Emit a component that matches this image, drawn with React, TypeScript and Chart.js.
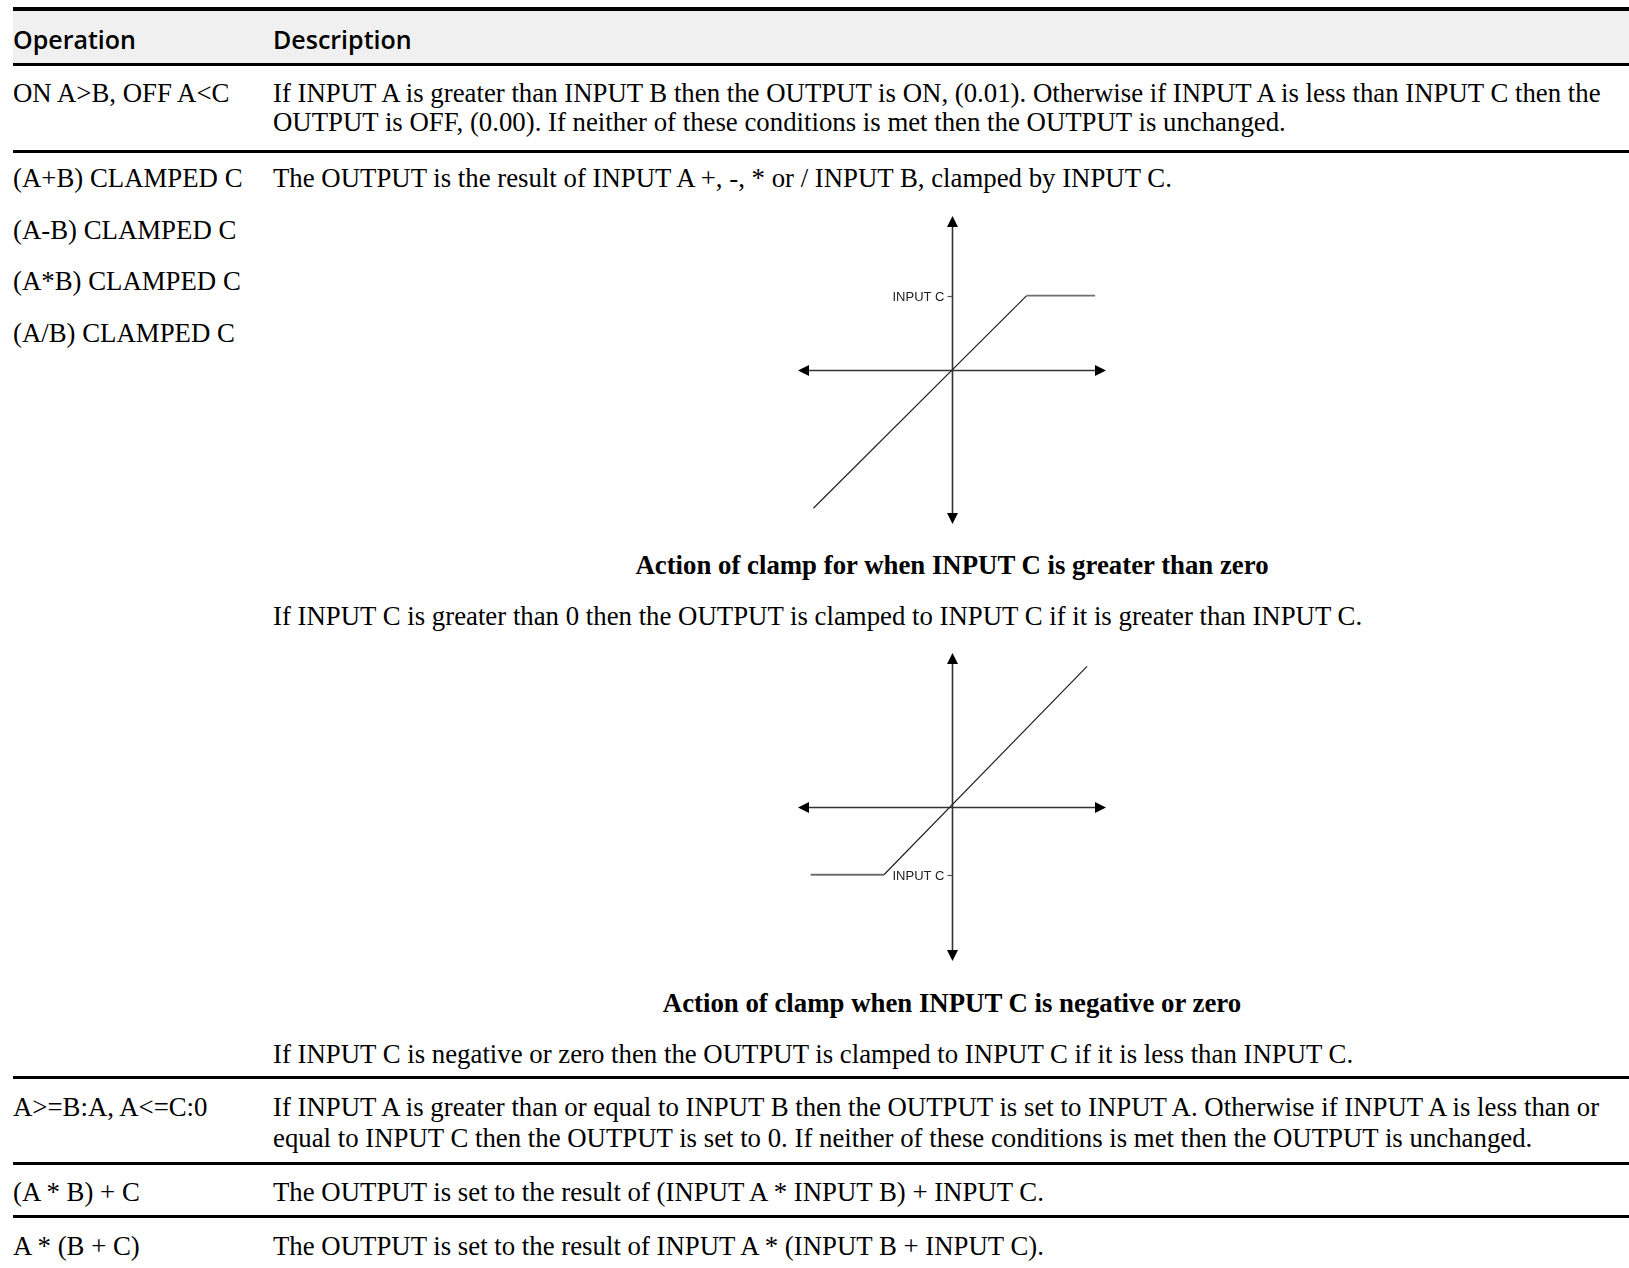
import React, { useEffect, useRef } from "react";
import { Chart, registerables } from "chart.js";

Chart.register(...registerables);

// ---- table text ----
const headers = ["Operation", "Description"];
const operations = [
  "ON A>B, OFF A<C",
  "(A+B) CLAMPED C",
  "(A-B) CLAMPED C",
  "(A*B) CLAMPED C",
  "(A/B) CLAMPED C",
  "A>=B:A, A<=C:0",
  "(A * B) + C",
  "A * (B + C)",
];
const row1Desc = [
  "If INPUT A is greater than INPUT B then the OUTPUT is ON, (0.01). Otherwise if INPUT A is less than INPUT C then the",
  "OUTPUT is OFF, (0.00). If neither of these conditions is met then the OUTPUT is unchanged.",
];
const row2Desc = "The OUTPUT is the result of INPUT A +, -, * or / INPUT B, clamped by INPUT C.";
const caption1 = "Action of clamp for when INPUT C is greater than zero";
const note1 = "If INPUT C is greater than 0 then the OUTPUT is clamped to INPUT C if it is greater than INPUT C.";
const caption2 = "Action of clamp when INPUT C is negative or zero";
const note2 = "If INPUT C is negative or zero then the OUTPUT is clamped to INPUT C if it is less than INPUT C.";
const row3Desc = [
  "If INPUT A is greater than or equal to INPUT B then the OUTPUT is set to INPUT A. Otherwise if INPUT A is less than or",
  "equal to INPUT C then the OUTPUT is set to 0. If neither of these conditions is met then the OUTPUT is unchanged.",
];
const row4Desc = "The OUTPUT is set to the result of (INPUT A * INPUT B) + INPUT C.";
const row5Desc = "The OUTPUT is set to the result of INPUT A * (INPUT B + INPUT C).";

// ---- diagram data (axis half-length = 1) ----
const tickLabel = "INPUT C";
const clampPosX = [-0.9, 0.485, 0.929];
const clampPosY = [-0.898, 0.483, 0.483];
const inputCPos = 0.483;
const clampNegX = [-0.918, -0.442, 0.877];
const clampNegY = [-0.44, -0.44, 0.913];
const inputCNeg = -0.44;

const UNIT = 154; // px per unit
const HALF = 160; // canvas half size in px
const RANGE = HALF / UNIT;

const SERIF = '"Liberation Serif", "Times New Roman", serif';
const SANS = '"Open Sans", "DejaVu Sans", sans-serif';

function ClampChart(props: { xs: number[]; ys: number[]; c: number; left: number; top: number }) {
  const ref = useRef<HTMLCanvasElement | null>(null);
  useEffect(() => {
    const { xs, ys, c } = props;
    const axesPlugin = {
      id: "clampAxes",
      beforeDatasetsDraw(chart: any) {
        const ctx = chart.ctx as CanvasRenderingContext2D;
        const xs_ = chart.scales.x;
        const ys_ = chart.scales.y;
        const x0 = Math.round(xs_.getPixelForValue(0)) + 0.5;
        const y0 = Math.round(ys_.getPixelForValue(0)) + 0.5;
        const xL = xs_.getPixelForValue(-1);
        const xR = xs_.getPixelForValue(1);
        const yT = ys_.getPixelForValue(1);
        const yB = ys_.getPixelForValue(-1);
        const AL = 11;
        const AW = 5.5;
        ctx.save();
        ctx.strokeStyle = "#333";
        ctx.fillStyle = "#000";
        ctx.lineWidth = 1.6;
        ctx.beginPath();
        ctx.moveTo(xL + AL, y0);
        ctx.lineTo(xR - AL, y0);
        ctx.moveTo(x0, yT + AL);
        ctx.lineTo(x0, yB - AL);
        ctx.stroke();
        const tri = (pts: number[][]) => {
          ctx.beginPath();
          ctx.moveTo(pts[0][0], pts[0][1]);
          ctx.lineTo(pts[1][0], pts[1][1]);
          ctx.lineTo(pts[2][0], pts[2][1]);
          ctx.closePath();
          ctx.fill();
        };
        tri([[xL, y0], [xL + AL, y0 - AW], [xL + AL, y0 + AW]]);
        tri([[xR, y0], [xR - AL, y0 - AW], [xR - AL, y0 + AW]]);
        tri([[x0, yT], [x0 - AW, yT + AL], [x0 + AW, yT + AL]]);
        tri([[x0, yB], [x0 - AW, yB - AL], [x0 + AW, yB - AL]]);
        const yc = Math.round(ys_.getPixelForValue(c)) + 0.5;
        ctx.strokeStyle = "#555";
        ctx.lineWidth = 1.2;
        ctx.beginPath();
        ctx.moveTo(x0 - 5, yc);
        ctx.lineTo(x0, yc);
        ctx.stroke();
        ctx.fillStyle = "#222";
        ctx.font = '13px "Liberation Sans", Arial, sans-serif';
        ctx.textAlign = "right";
        ctx.textBaseline = "middle";
        ctx.fillText(tickLabel, x0 - 8, yc + 0.5);
        ctx.restore();
      },
    };
    const chart = new Chart(ref.current as HTMLCanvasElement, {
      type: "scatter",
      data: {
        datasets: [
          {
            data: xs.map((v, i) => ({ x: v, y: ys[i] })),
            showLine: true,
            pointRadius: 0,
            borderColor: "#222",
            borderWidth: 1.2,
            segment: {
              borderColor: (s: any) => (s.p0.parsed.y === s.p1.parsed.y ? "#6f6f6f" : "#222"),
              borderWidth: (s: any) => (s.p0.parsed.y === s.p1.parsed.y ? 1.8 : 1.2),
            },
          } as any,
        ],
      },
      options: {
        animation: false,
        responsive: false,
        maintainAspectRatio: false,
        events: [],
        layout: { padding: 0 },
        plugins: { legend: { display: false }, tooltip: { enabled: false } },
        scales: {
          x: { type: "linear", min: -RANGE, max: RANGE, display: false },
          y: { type: "linear", min: -RANGE, max: RANGE, display: false },
        },
      },
      plugins: [axesPlugin],
    });
    return () => chart.destroy();
  }, []);
  return (
    <canvas
      ref={ref}
      width={HALF * 2}
      height={HALF * 2}
      style={{ position: "absolute", left: props.left, top: props.top, width: HALF * 2, height: HALF * 2 }}
    />
  );
}

const BODY = 26.8;
const LH = 30;

function T(props: { x: number; cy: number; text: string; bold?: boolean; center?: boolean }) {
  const style: React.CSSProperties = {
    position: "absolute",
    top: props.cy - LH / 2,
    fontFamily: SERIF,
    fontSize: BODY,
    lineHeight: LH + "px",
    whiteSpace: "nowrap",
    fontWeight: props.bold ? 700 : 400,
    color: "#000",
  };
  if (props.center) {
    style.left = props.x - 500;
    style.width = 1000;
    style.textAlign = "center";
  } else {
    style.left = props.x;
  }
  return <div style={style}>{props.text}</div>;
}

function Rule(props: { y: number; h?: number }) {
  return (
    <div
      style={{ position: "absolute", left: 13, right: 0, top: props.y, height: props.h || 3, background: "#000" }}
    />
  );
}

export default function App() {
  const C1 = 13;
  const C2 = 273;
  return (
    <div
      style={{
        position: "absolute",
        left: 0,
        top: 0,
        width: 1629,
        height: 1268,
        background: "#fff",
        overflow: "hidden",
      }}
    >
      <div style={{ position: "absolute", left: 13, right: 0, top: 11, height: 52, background: "#f0f0f0" }} />
      <Rule y={7} h={4} />
      {headers.map((h, i) => (
        <div
          key={h}
          style={{
            position: "absolute",
            left: i === 0 ? C1 : C2,
            top: 39 - 17,
            fontFamily: SANS,
            fontSize: 25,
            fontWeight: 600,
            lineHeight: "34px",
            color: "#000",
            whiteSpace: "nowrap",
          }}
        >
          {h}
        </div>
      ))}
      <Rule y={63} />

      <T x={C1} cy={93} text={operations[0]} />
      <T x={C2} cy={93} text={row1Desc[0]} />
      <T x={C2} cy={122} text={row1Desc[1]} />
      <Rule y={150} />

      <T x={C1} cy={178} text={operations[1]} />
      <T x={C1} cy={230} text={operations[2]} />
      <T x={C1} cy={281} text={operations[3]} />
      <T x={C1} cy={333} text={operations[4]} />
      <T x={C2} cy={178} text={row2Desc} />

      <ClampChart xs={clampPosX} ys={clampPosY} c={inputCPos} left={792} top={210} />
      <T x={952} cy={565} text={caption1} bold center />
      <T x={C2} cy={616} text={note1} />

      <ClampChart xs={clampNegX} ys={clampNegY} c={inputCNeg} left={792} top={647} />
      <T x={952} cy={1003} text={caption2} bold center />
      <T x={C2} cy={1054} text={note2} />
      <Rule y={1076} />

      <T x={C1} cy={1107} text={operations[5]} />
      <T x={C2} cy={1107} text={row3Desc[0]} />
      <T x={C2} cy={1138} text={row3Desc[1]} />
      <Rule y={1162} />

      <T x={C1} cy={1192} text={operations[6]} />
      <T x={C2} cy={1192} text={row4Desc} />
      <Rule y={1215} />

      <T x={C1} cy={1246} text={operations[7]} />
      <T x={C2} cy={1246} text={row5Desc} />
    </div>
  );
}
